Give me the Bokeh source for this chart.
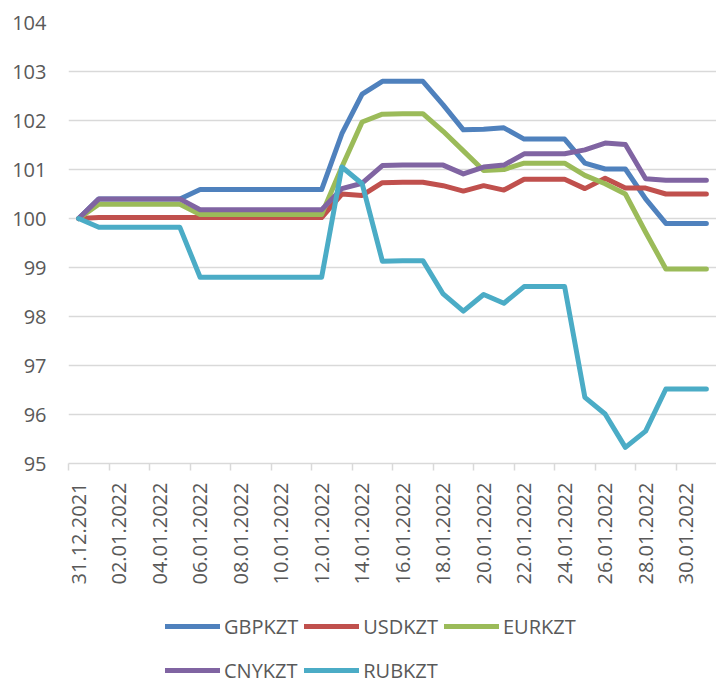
import math
from bokeh.plotting import figure
from bokeh.layouts import column
from bokeh.models import Range1d, FixedTicker, Legend, LegendItem
from bokeh.embed import file_html
from bokeh.resources import INLINE

dates = ["31.12.2021"] + ["%02d.01.2022" % d for d in range(1, 32)]

gbp = [100.00, 100.40, 100.40, 100.40, 100.40, 100.40, 100.59, 100.59, 100.59, 100.59,
       100.59, 100.59, 100.59, 101.73, 102.54, 102.80, 102.80, 102.80, 102.32, 101.81,
       101.82, 101.85, 101.62, 101.62, 101.62, 101.13, 101.01, 101.01, 100.40, 99.90,
       99.90, 99.90]
usd = [100.00, 100.02, 100.02, 100.02, 100.02, 100.02, 100.02, 100.02, 100.02, 100.02,
       100.02, 100.02, 100.02, 100.50, 100.47, 100.73, 100.74, 100.74, 100.67, 100.56,
       100.67, 100.58, 100.80, 100.80, 100.80, 100.61, 100.82, 100.62, 100.62, 100.50,
       100.50, 100.50]
eur = [100.00, 100.29, 100.29, 100.29, 100.29, 100.29, 100.08, 100.08, 100.08, 100.08,
       100.08, 100.08, 100.08, 101.05, 101.97, 102.13, 102.14, 102.14, 101.78, 101.38,
       100.98, 101.00, 101.13, 101.13, 101.13, 100.88, 100.71, 100.50, 99.72, 98.97,
       98.97, 98.97]
cny = [100.00, 100.40, 100.40, 100.40, 100.40, 100.40, 100.18, 100.18, 100.18, 100.18,
       100.18, 100.18, 100.18, 100.61, 100.72, 101.08, 101.09, 101.09, 101.09, 100.91,
       101.05, 101.09, 101.32, 101.32, 101.32, 101.40, 101.54, 101.51, 100.81, 100.78,
       100.78, 100.78]
rub = [100.00, 99.82, 99.82, 99.82, 99.82, 99.82, 98.80, 98.80, 98.80, 98.80,
       98.80, 98.80, 98.80, 101.05, 100.71, 99.13, 99.14, 99.14, 98.46, 98.11,
       98.45, 98.27, 98.61, 98.61, 98.61, 96.35, 96.01, 95.33, 95.66, 96.52,
       96.52, 96.52]

series_names = ["GBPKZT", "USDKZT", "EURKZT", "CNYKZT", "RUBKZT"]
series_values = [gbp, usd, eur, cny, rub]
colors = ["#4f81bd", "#c0504d", "#9bbb59", "#8064a2", "#4bacc6"]
y_ticks = list(range(95, 105))

FONT = "Open Sans"
TXT = "#595959"
GRID = "#d9d9d9"

xs = list(range(len(dates)))

p = figure(width=716, height=600, output_backend="svg", toolbar_location=None,
           x_range=Range1d(-0.5, 31.5), y_range=Range1d(95, 104),
           min_border_left=68, min_border_right=0, min_border_top=22,
           min_border_bottom=137)
p.outline_line_color = None
p.background_fill_color = "white"

# grid
p.xgrid.grid_line_color = None
p.ygrid.grid_line_color = GRID
p.ygrid.grid_line_width = 1.5

# y axis
p.yaxis.ticker = FixedTicker(ticks=y_ticks)
p.yaxis.axis_line_color = None
p.yaxis.major_tick_line_color = None
p.yaxis.minor_tick_line_color = None
p.yaxis.major_tick_out = 0
p.yaxis.major_tick_in = 0
p.yaxis.major_label_standoff = 22
p.yaxis.major_label_text_font = FONT
p.yaxis.major_label_text_font_size = "20px"
p.yaxis.major_label_text_color = TXT

# x axis
label_pos = [i for i in xs if i % 2 == 0]
p.xaxis.ticker = FixedTicker(ticks=label_pos, minor_ticks=[i - 0.5 for i in label_pos])
p.xaxis.major_label_overrides = {i: dates[i] for i in label_pos}
p.xaxis.axis_line_color = GRID
p.xaxis.axis_line_width = 1.5
p.xaxis.major_tick_line_color = None
p.xaxis.major_tick_out = 0
p.xaxis.major_tick_in = 0
p.xaxis.minor_tick_line_color = GRID
p.xaxis.minor_tick_line_width = 1.5
p.xaxis.minor_tick_out = 7
p.xaxis.minor_tick_in = 0
p.xaxis.major_label_orientation = math.pi / 2
p.xaxis.major_label_standoff = 12
p.xaxis.major_label_text_font = FONT
p.xaxis.major_label_text_font_size = "20px"
p.xaxis.major_label_text_color = TXT

for name, vals, c in zip(series_names, series_values, colors):
    p.line(xs, vals, line_color=c, line_width=5, line_join="round", line_cap="round")

# legend panel (series drawn off-range so only the legend shows)
p2 = figure(width=716, height=83, output_backend="svg", toolbar_location=None,
            x_range=Range1d(-0.5, 31.5), y_range=Range1d(0, 1),
            x_axis_type=None, y_axis_type=None,
            min_border_left=0, min_border_right=0, min_border_top=0, min_border_bottom=0)
p2.outline_line_color = None
p2.xgrid.grid_line_color = None
p2.ygrid.grid_line_color = None

items = []
for name, vals, c in zip(series_names, series_values, colors):
    r = p2.line(xs, vals, line_color=c, line_width=5, line_cap="round")
    items.append(LegendItem(label=name, renderers=[r]))

legend = Legend(items=items, orientation="horizontal", ncols=3,
                location=(97, -6), padding=0, margin=0, spacing=6,
                glyph_width=55, glyph_height=38, label_height=38,
                label_standoff=4,
                label_text_font=FONT, label_text_font_size="20px",
                label_text_color=TXT, border_line_color=None,
                background_fill_alpha=0)
p2.add_layout(legend)

open("out.html", "w").write(file_html(column(p, p2, spacing=0), INLINE))
